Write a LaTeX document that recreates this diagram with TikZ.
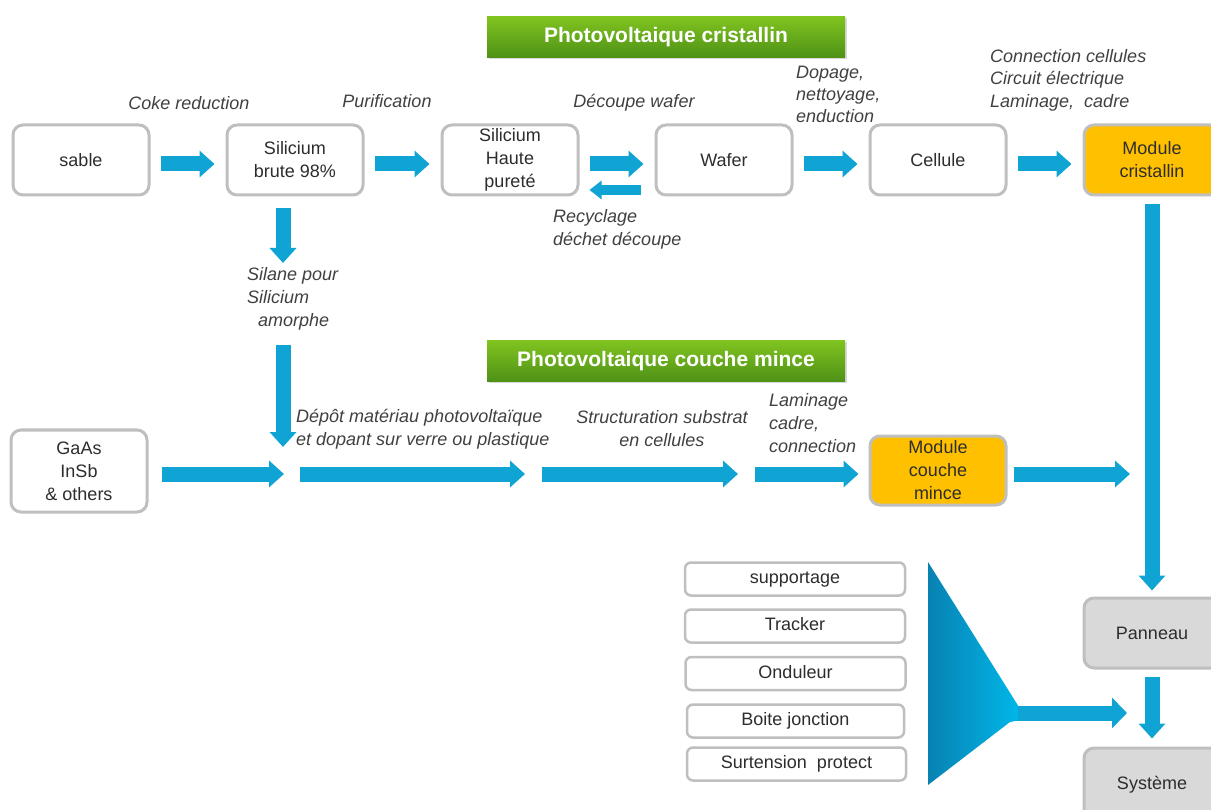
\documentclass[tikz,border=0pt]{standalone}
\usepackage{fontspec}
\setmainfont{Liberation Sans}
\usetikzlibrary{arrows.meta,shadows,calc}
\definecolor{arrowblue}{RGB}{16,164,212}
\definecolor{boxgray}{RGB}{191,191,191}
\definecolor{txt}{RGB}{45,45,45}
\definecolor{lbl}{RGB}{64,64,64}
\definecolor{modorange}{RGB}{255,192,0}
\definecolor{panelgray}{RGB}{217,217,217}
\definecolor{gtop}{RGB}{128,196,32}
\definecolor{gbot}{RGB}{78,145,22}
\definecolor{tridark}{RGB}{8,130,178}
\definecolor{trilight}{RGB}{0,182,232}
\begin{document}
\begin{tikzpicture}[x=1pt,y=-1pt,
  stepbox/.style={draw=boxgray, line width=3pt, rounded corners=10pt, fill=white,
    minimum width=136pt, minimum height=70pt, align=center, text=txt,
    font=\fontsize{18}{23}\selectfont, inner sep=2pt},
  modbox/.style={stepbox, fill=modorange},
  panbox/.style={stepbox, fill=panelgray},
  smallbox/.style={draw=boxgray, line width=2.5pt, rounded corners=6pt, fill=white,
    minimum width=220pt, minimum height=33pt, text=txt, text height=13pt, text depth=4pt,
    font=\fontsize{18}{22}\selectfont, inner sep=2pt},
  lbltext/.style={text=lbl, font=\fontsize{18}{23}\selectfont\itshape, inner sep=0pt},
  titlebox/.style={minimum width=358pt, minimum height=41pt, top color=gtop, bottom color=gbot,
    text=white, font=\fontsize{21}{25}\selectfont\bfseries,
    drop shadow={opacity=0.3, shadow xshift=1.5pt, shadow yshift=-2pt}},
  barrow/.style={draw=arrowblue, line width=15pt, -{Triangle[width=26pt,length=15pt]},
    shorten <=10pt, shorten >=11pt},
  sarrow/.style={draw=arrowblue, line width=10pt, -{Triangle[width=18pt,length=12pt]}}
]
\useasboundingbox (0,0) rectangle (1211,810);

% titles
\node[titlebox] (t1) at (666,37) {Photovoltaique cristallin};
\node[titlebox] (t2) at (666,361) {Photovoltaique couche mince};

% top row
\node[stepbox] (sable) at (81,160) {sable};
\node[stepbox] (brute) at (295,160) {Silicium\\brute 98\%};
\node[stepbox] (haute) at (510,160) {Silicium\\Haute\\pureté};
\node[stepbox] (wafer) at (724,160) {Wafer};
\node[stepbox] (cell) at (938,160) {Cellule};
\node[modbox] (mc) at (1152,160) {Module\\cristallin};

\draw[barrow] ([yshift=-4pt]sable.east) -- ([yshift=-4pt]brute.west);
\draw[barrow] ([yshift=-4pt]haute.east) -- ([yshift=-4pt]wafer.west);
\draw[barrow] ([yshift=-4pt]brute.east) -- ([yshift=-4pt]haute.west);
\draw[barrow] ([yshift=-4pt]wafer.east) -- ([yshift=-4pt]cell.west);
\draw[barrow] ([yshift=-4pt]cell.east) -- ([yshift=-4pt]mc.west);
\draw[sarrow, shorten <=14pt, shorten >=10pt] ([yshift=-30pt]wafer.west) -- ([yshift=-30pt]haute.east);

% labels top
\node[lbltext] (l1) at (189,103) {Coke reduction};
\node[lbltext] (l2) at (387,101) {Purification};
\node[lbltext] (l3) at (634,103) {Découpe wafer};
\node[lbltext, anchor=west, align=left] (l4) at (553,229) {Recyclage\\déchet découpe};
\node[lbltext, anchor=west, align=left, font=\fontsize{18}{22}\selectfont\itshape] (l5) at (796,94) {Dopage,\\nettoyage,\\enduction};
\node[lbltext, anchor=west, align=left, font=\fontsize{18}{22.5}\selectfont\itshape] (l6) at (990,80) {Connection cellules\\Circuit électrique\\Laminage,~ cadre};
\node[lbltext, anchor=west, align=left] (l7) at (247,299) {Silane pour\\Silicium\\\hspace*{11pt}amorphe};

% silane arrows
\coordinate (s1) at (283,263);
\coordinate (s2) at (283,345);
\coordinate (s3) at (283,447);
\draw[barrow, shorten <=12pt, shorten >=0pt] ([xshift=-12pt]brute.south) -- (s1);
\draw[barrow, shorten <=0pt, shorten >=0pt] (s2) -- (s3);

% second row
\node[stepbox, minimum height=82pt] (gaas) at (79,471) {GaAs\\InSb\\\& others};
\node[modbox, minimum height=69pt] (mcm) at (938,470.5) {Module\\couche\\mince};
\coordinate (j1) at (292,474);
\coordinate (j2) at (533,474);
\coordinate (j3) at (746,474);
\coordinate (j4) at (1153,474);
\draw[barrow, shorten <=13pt, shorten >=8pt] ([yshift=-3pt]gaas.east) -- (j1);
\draw[barrow, shorten <=8pt, shorten >=8pt] (j1) -- (j2);
\draw[barrow, shorten <=9pt, shorten >=8pt] (j2) -- (j3);
\draw[barrow, shorten <=9pt, shorten >=10pt] (j3) -- ([yshift=-3.5pt]mcm.west);
\draw[barrow, shorten <=6pt, shorten >=23pt] ([yshift=-3.5pt]mcm.east) -- (j4);

\node[lbltext, anchor=west, align=left] (l8) at (296,429) {Dépôt matériau photovoltaïque\\et dopant sur verre ou plastique};
\node[lbltext, align=center] (l9) at (662,429) {Structuration substrat\\en cellules};
\node[lbltext, anchor=west, align=left] (l10) at (769,423) {Laminage\\cadre,\\connection};

% right column
\node[panbox] (pan) at (1152,633) {Panneau};
\node[panbox, minimum height=74pt] (sys) at (1152,785) {Système};
\draw[barrow, shorten <=8pt, shorten >=6pt] (mc.south) -- (pan.north);
\draw[barrow, shorten <=7pt, shorten >=8pt] (pan.south) -- (sys.north);

% small boxes
\node[smallbox] (b1) at (795,579) {supportage};
\node[smallbox] (b2) at (795,626) {Tracker};
\node[smallbox] (b3) at (795.5,673.5) {Onduleur};
\node[smallbox, minimum width=217pt] (b4) at (795.5,721) {Boite jonction};
\node[smallbox, minimum width=219pt] (b5) at (796.5,764) {Surtension~ protect};

% funnel triangle and arrow
\coordinate (apex) at (1005,713);
\coordinate (sysin) at (1127,713);
\draw[draw=arrowblue, line width=15pt, -{Triangle[width=30pt,length=15pt]}] (apex) -- (sysin);
\shade[left color=tridark, right color=trilight] (928,562) -- (1018,705.5) -- (1018,720.5) -- (1010,722) -- (928,785) -- cycle;
\end{tikzpicture}
\end{document}
